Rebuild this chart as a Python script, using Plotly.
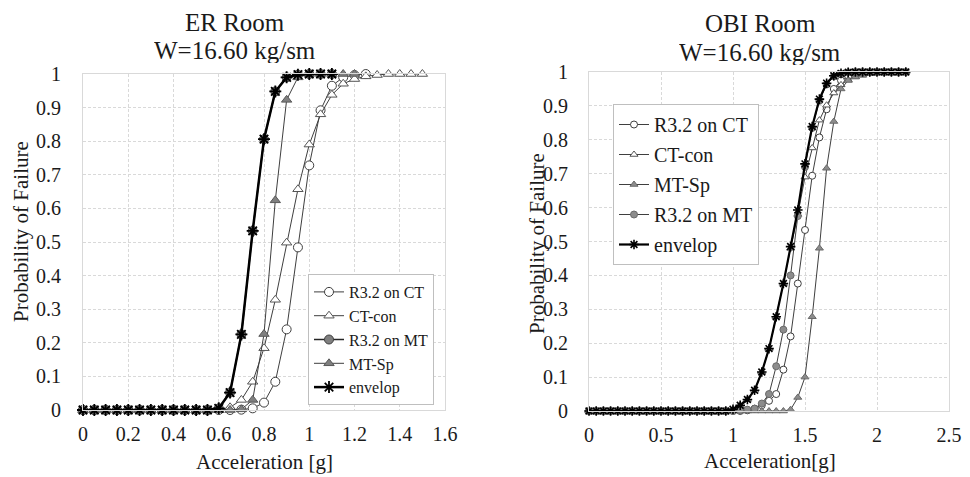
import plotly.graph_objects as go

# ---------------- data: ER Room ----------------
accel_er = [0.00, 0.05, 0.10, 0.15, 0.20, 0.25, 0.30, 0.35, 0.40, 0.45,
            0.50, 0.55, 0.60, 0.65, 0.70, 0.75, 0.80, 0.85, 0.90, 0.95,
            1.00, 1.05, 1.10, 1.15, 1.20, 1.25, 1.30, 1.35, 1.40, 1.45, 1.50]

er_r32_ct = [0, 0, 0, 0, 0, 0, 0, 0, 0, 0,
             0, 0, 0, 0, 0.001, 0.005, 0.022, 0.084, 0.240, 0.484,
             0.728, 0.892, 0.965, 0.990, 0.997, 1.000]
er_ct_con = [0, 0, 0, 0, 0, 0, 0, 0, 0, 0,
             0, 0, 0, 0.008, 0.030, 0.084, 0.184, 0.328, 0.498, 0.657,
             0.790, 0.880, 0.938, 0.971, 0.985, 0.993, 0.997, 1.0, 1.0, 1.0, 1.0]
er_r32_mt = [0, 0, 0, 0, 0, 0, 0, 0, 0, 0,
             0, 0, 0.005, 0.052, 0.225, 0.533, 0.806, 0.948, 0.990, 0.998,
             1.0, 1.0, 1.0]
er_mt_sp = [0, 0, 0, 0, 0, 0, 0, 0, 0, 0,
            0, 0, 0, 0, 0.002, 0.030, 0.226, 0.624, 0.923, 0.990,
            1.0, 1.0, 1.0, 1.0, 1.0]
er_envelop = [0, 0, 0, 0, 0, 0, 0, 0, 0, 0,
              0, 0, 0.005, 0.052, 0.225, 0.533, 0.806, 0.948, 0.990, 0.998,
              1.0, 1.0, 1.0]

# ---------------- data: OBI Room ----------------
accel_obi = [0.00, 0.05, 0.10, 0.15, 0.20, 0.25, 0.30, 0.35, 0.40, 0.45,
             0.50, 0.55, 0.60, 0.65, 0.70, 0.75, 0.80, 0.85, 0.90, 0.95,
             1.00, 1.05, 1.10, 1.15, 1.20, 1.25, 1.30, 1.35, 1.40, 1.45,
             1.50, 1.55, 1.60, 1.65, 1.70, 1.75, 1.80, 1.85, 1.90, 1.95,
             2.00, 2.05, 2.10, 2.15, 2.20]

obi_r32_ct = [0]*22 + [0.002, 0.007, 0.017, 0.030, 0.050, 0.122, 0.220, 0.376,
                       0.534, 0.694, 0.807, 0.890, 0.950, 0.975, 0.988, 0.995, 0.998, 0.999,
                       1.0, 1.0, 1.0, 1.0, 1.0]
obi_ct_con = [0]*20 + [0.005, 0.017, 0.034, 0.061, 0.115, 0.184, 0.278, 0.376, 0.480, 0.580,
                       0.690, 0.776, 0.858, 0.902, 0.938, 0.962, 0.977, 0.986, 0.992, 0.996,
                       0.998, 0.999, 1.0, 1.0, 1.0]
obi_mt_sp = [0]*28 + [0.004, 0.040, 0.100, 0.278, 0.480, 0.716, 0.854, 0.950, 0.975, 0.985,
                      0.990, 0.995, 0.998, 0.999, 1.0, 1.0, 1.0]
obi_r32_mt = [0]*21 + [0.002, 0.004, 0.007, 0.022, 0.050, 0.132, 0.240, 0.400, 0.575,
                       0.720, 0.835, 0.915, 0.963, 0.987, 0.995, 0.999, 1.0, 1.0, 1.0,
                       1.0, 1.0, 1.0, 1.0]
obi_envelop = [0]*20 + [0.005, 0.017, 0.034, 0.061, 0.115, 0.184, 0.278, 0.376, 0.485, 0.593,
                        0.729, 0.839, 0.920, 0.967, 0.989, 0.996, 0.999, 1.0, 1.0, 1.0,
                        1.0, 1.0, 1.0, 1.0, 1.0]

FONT = "Liberation Serif"
TXT = "#1a1a1a"
LINE = "#3f3f3f"
W, H = 970, 477
OFF = 8  # page body margin offset


def px(x):
    return (x - OFF) / W


def py(y):
    return 1 - (y - OFF) / H


fig = go.Figure()


def add(x, y, name, symbol, fill, lw, lcolor, msize, xa, ya, legend, mline="#3f3f3f", group=None):
    fig.add_trace(go.Scatter(
        x=x[:len(y)], y=y, name=name, mode="lines+markers",
        line=dict(color=lcolor, width=lw),
        marker=dict(symbol=symbol, size=msize, color=fill,
                    line=dict(color=mline, width=1)),
        xaxis=xa, yaxis=ya, legend=legend, cliponaxis=False,
        legendgroup=group,
    ))


# left chart (ER Room)
add(accel_er, er_r32_ct, "R3.2 on CT", "circle", "white", 1, LINE, 9, "x", "y", "legend")
add(accel_er, er_ct_con, "CT-con", "triangle-up", "white", 1, LINE, 9, "x", "y", "legend", mline="#555555")
add(accel_er, er_r32_mt, "R3.2 on MT", "circle", "#7f7f7f", 1.5, "#262626", 9, "x", "y", "legend", mline="#404040")
add(accel_er, er_mt_sp, "MT-Sp", "triangle-up", "#7f7f7f", 1, LINE, 9, "x", "y", "legend", mline="#595959")
fig.add_trace(go.Scatter(
    x=accel_er[:len(er_envelop)], y=er_envelop, name="envelop", mode="lines+markers",
    line=dict(color="black", width=2.5),
    marker=dict(symbol="asterisk-open", size=10, color="black", line=dict(color="black", width=1.8)),
    xaxis="x", yaxis="y", legend="legend", cliponaxis=False))

# right chart (OBI Room)
add(accel_obi, obi_r32_ct, "R3.2 on CT", "circle", "white", 1, LINE, 7, "x2", "y2", "legend2", group="a")
add(accel_obi, obi_ct_con, "CT-con", "triangle-up", "white", 1, LINE, 7, "x2", "y2", "legend2", mline="#555555", group="b")
add(accel_obi, obi_mt_sp, "MT-Sp", "triangle-up", "#8c8c8c", 1, LINE, 7, "x2", "y2", "legend2", mline="#6a6a6a", group="c")
add(accel_obi, obi_r32_mt, "R3.2 on MT", "circle", "#8c8c8c", 1, LINE, 7, "x2", "y2", "legend2", mline="#6a6a6a", group="d")
fig.add_trace(go.Scatter(
    x=accel_obi[:len(obi_envelop)], y=obi_envelop, name="envelop", mode="lines+markers",
    line=dict(color="black", width=2.2),
    marker=dict(symbol="asterisk-open", size=8, color="black", line=dict(color="black", width=1.6)),
    xaxis="x2", yaxis="y2", legend="legend2", legendgroup="e", cliponaxis=False))

# plot-area edges (screen pixels)
L_X0, L_X1, L_Y0, L_Y1 = 83, 445, 74, 410
R_X0, R_X1, R_Y0, R_Y1 = 589, 949, 72, 411

axis_common = dict(
    showline=True, mirror=True, linecolor="#d9d9d9", linewidth=1,
    showgrid=True, gridcolor="#d9d9d9", gridwidth=1, griddash="3px,2px",
    zeroline=False, ticks="", automargin=False,
    tickfont=dict(family=FONT, size=20, color=TXT),
)

fig.update_layout(
    width=W, height=H,
    margin=dict(l=0, r=0, t=0, b=0, autoexpand=False),
    paper_bgcolor="white", plot_bgcolor="white",
    font=dict(family=FONT, color=TXT),
    xaxis=dict(domain=[px(L_X0), px(L_X1)], range=[0, 1.6], dtick=0.2, tick0=0,
               anchor="y", ticklabelstandoff=6, **axis_common),
    yaxis=dict(domain=[py(L_Y1), py(L_Y0)], range=[0, 1], dtick=0.1, tick0=0,
               anchor="x", ticklabelstandoff=17, **axis_common),
    xaxis2=dict(domain=[px(R_X0), px(R_X1)], range=[0, 2.5], dtick=0.5, tick0=0,
                anchor="y2", ticklabelstandoff=6, **axis_common),
    yaxis2=dict(domain=[py(R_Y1), py(R_Y0)], range=[0, 1], dtick=0.1, tick0=0,
                anchor="x2", ticklabelstandoff=16, **axis_common),
    legend=dict(x=px(308), y=py(274), xanchor="left", yanchor="top",
                bgcolor="white", bordercolor="#bfbfbf", borderwidth=1,
                font=dict(family=FONT, size=16, color=TXT), itemwidth=30,
                tracegroupgap=0),
    legend2=dict(x=px(613), y=py(104), xanchor="left", yanchor="top",
                 bgcolor="white", bordercolor="#bfbfbf", borderwidth=1,
                 font=dict(family=FONT, size=20, color=TXT), itemwidth=30,
                 tracegroupgap=1),
    showlegend=True,
)

annots = [
    dict(text="ER Room", x=235, y=22),
    dict(text="W=16.60 kg/sm", x=235, y=50),
    dict(text="OBI Room", x=760, y=23),
    dict(text="W=16.60 kg/sm", x=760, y=52),
]
for a in annots:
    fig.add_annotation(xref="paper", yref="paper", x=px(a["x"]), y=py(a["y"]), text=a["text"],
                       showarrow=False, xanchor="center", yanchor="middle",
                       height=26, borderpad=0,
                       font=dict(family=FONT, size=25, color=TXT))

axis_titles = [
    dict(text="Acceleration [g]", x=264, y=462, angle=0),
    dict(text="Acceleration[g]", x=770, y=461, angle=0),
    dict(text="Probability of Failure", x=21, y=232, angle=-90),
    dict(text="Probability of Failure", x=537, y=244, angle=-90),
]
for a in axis_titles:
    fig.add_annotation(xref="paper", yref="paper", x=px(a["x"]), y=py(a["y"]), text=a["text"],
                       showarrow=False, xanchor="center", yanchor="middle", textangle=a["angle"],
                       font=dict(family=FONT, size=21, color=TXT))

fig.write_html("out.html")
